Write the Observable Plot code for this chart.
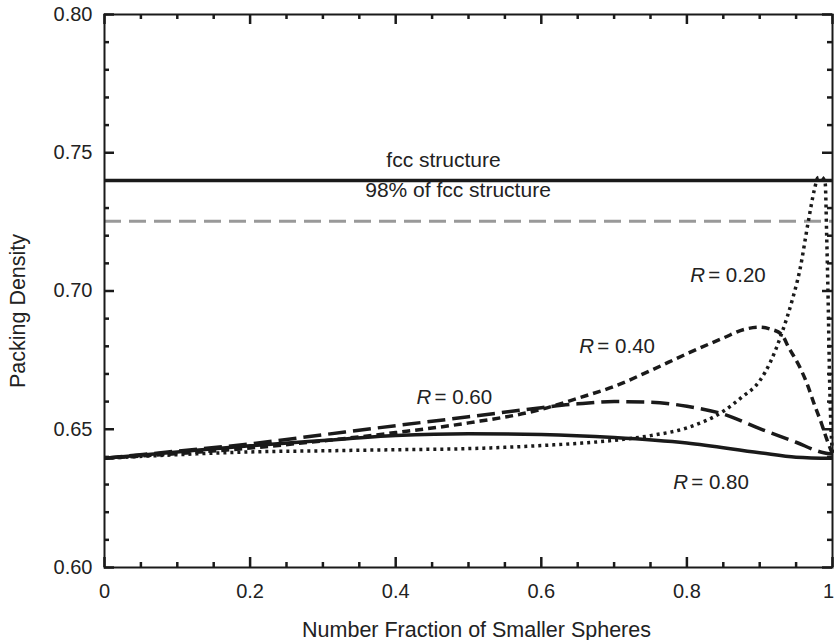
<!DOCTYPE html>
<html>
<head>
<meta charset="utf-8">
<script src="https://cdn.jsdelivr.net/npm/d3@7"></script>
<script src="https://cdn.jsdelivr.net/npm/@observablehq/plot@0.6"></script>
<style>
  html, body { margin: 0; padding: 0; background: #fff; }
</style>
</head>
<body>
<div id="chart"></div>
<script>
// ---- data ----
const r80x = [0, 0.1, 0.2, 0.3, 0.4, 0.5, 0.6, 0.7, 0.8, 0.9, 0.95, 1.0];
const r80y = [0.6395, 0.6418, 0.6440, 0.6459, 0.6477, 0.6484, 0.6481, 0.6470, 0.6450, 0.6415, 0.6399, 0.6395];

const r60x = [0, 0.1, 0.2, 0.3, 0.4, 0.5, 0.6, 0.65, 0.7, 0.75, 0.8, 0.85, 0.9, 0.95, 0.985, 1.0];
const r60y = [0.6395, 0.6421, 0.6447, 0.6480, 0.6513, 0.6545, 0.6578, 0.6592, 0.6600, 0.6598, 0.6583, 0.6555, 0.6502, 0.6453, 0.6417, 0.6410];

const r40x = [0, 0.1, 0.2, 0.3, 0.4, 0.5, 0.6, 0.65, 0.7, 0.75, 0.8, 0.85, 0.88, 0.9, 0.915, 0.93, 0.94, 0.955, 0.965, 0.975, 0.985, 0.992, 1.0];
const r40y = [0.6395, 0.6412, 0.6432, 0.6458, 0.6488, 0.6523, 0.6572, 0.6612, 0.6655, 0.6712, 0.6773, 0.6830, 0.6862, 0.6869, 0.6862, 0.6843, 0.6795, 0.6725, 0.6665, 0.6590, 0.6520, 0.6465, 0.6410];

const r20x = [0, 0.1, 0.2, 0.3, 0.4, 0.5, 0.6, 0.65, 0.7, 0.75, 0.8, 0.85, 0.875, 0.9, 0.915, 0.93, 0.945, 0.955, 0.967, 0.975, 0.98, 0.985, 0.99, 0.992, 0.994, 0.996, 0.998, 1.0];
const r20y = [0.6395, 0.6408, 0.6418, 0.6422, 0.6426, 0.6430, 0.6441, 0.6449, 0.6460, 0.6477, 0.6505, 0.6565, 0.6615, 0.6675, 0.6745, 0.6845, 0.6970, 0.7074, 0.7255, 0.7365, 0.7410, 0.7412, 0.7390, 0.7200, 0.6970, 0.6680, 0.6500, 0.6410];

const fccValue = 0.740;
const fcc98Value = 0.7252;

const xTickValues = [0, 0.2, 0.4, 0.6, 0.8, 1];
const xMinorTicks = [0.05, 0.1, 0.15, 0.25, 0.3, 0.35, 0.45, 0.5, 0.55, 0.65, 0.7, 0.75, 0.85, 0.9, 0.95];
const yTickValues = [0.60, 0.65, 0.70, 0.75, 0.80];
const yMinorTicks = [0.61, 0.62, 0.63, 0.64, 0.66, 0.67, 0.68, 0.69, 0.71, 0.72, 0.73, 0.74, 0.76, 0.77, 0.78, 0.79];

const refLabels = [
  {text: "fcc structure", x: 0.4657, y: 0.7448},
  {text: "98% of fcc structure", x: 0.4856, y: 0.7339}
];
const rLabels = [
  {r: "0.20", x: 0.8045, y: 0.7032},
  {r: "0.40", x: 0.6523, y: 0.6775},
  {r: "0.60", x: 0.4287, y: 0.6592},
  {r: "0.80", x: 0.7812, y: 0.6285}
];

// ---- build ----
const toRows = (xs, ys) => xs.map((x, i) => ({x, y: ys[i]}));
const W = 834, H = 640;
const mL = 104, mR = 2, mT = 14, mB = 73;
const fW = W - mL - mR, fH = H - mT - mB;
const ink = "#1a1a1a";
const txt = "#222";
const lineOpts = {x: "x", y: "y", stroke: ink, strokeWidth: 3.5, curve: "monotone-x", strokeLinecap: "butt", strokeLinejoin: "round"};
const fmtX = d => String(+d.toFixed(1));

const chart = Plot.plot({
  width: W,
  height: H,
  marginLeft: mL,
  marginRight: mR,
  marginTop: mT,
  marginBottom: mB,
  style: {fontFamily: "'Liberation Sans', Arial, Helvetica, sans-serif", fontSize: "20px", color: txt, background: "#fff"},
  x: {domain: [0, 1], axis: null},
  y: {domain: [0.6, 0.8]},
  marks: [
    Plot.ruleY([fccValue], {stroke: ink, strokeWidth: 3.5}),
    Plot.ruleY([fcc98Value], {stroke: "#999", strokeWidth: 3, strokeDasharray: "17,8"}),
    Plot.line(toRows(r80x, r80y), {...lineOpts}),
    Plot.line(toRows(r60x, r60y), {...lineOpts, strokeDasharray: "18,7"}),
    Plot.line(toRows(r40x, r40y), {...lineOpts, strokeDasharray: "8,5"}),
    Plot.line(toRows(r20x, r20y), {...lineOpts, strokeDasharray: "3,4"}),
    // ticks (inward, all four sides)
    Plot.ruleX(xTickValues, {x: d => d, insetTop: fH - 10, stroke: ink, strokeWidth: 2.5}),
    Plot.ruleX(xTickValues, {x: d => d, insetBottom: fH - 10, stroke: ink, strokeWidth: 2.5}),
    Plot.ruleX(xMinorTicks, {x: d => d, insetTop: fH - 5, stroke: ink, strokeWidth: 2.5}),
    Plot.ruleX(xMinorTicks, {x: d => d, insetBottom: fH - 5, stroke: ink, strokeWidth: 2.5}),
    Plot.ruleY(yTickValues, {y: d => d, insetRight: fW - 10, stroke: ink, strokeWidth: 2.5}),
    Plot.ruleY(yTickValues, {y: d => d, insetLeft: fW - 10, stroke: ink, strokeWidth: 2.5}),
    Plot.ruleY(yMinorTicks, {y: d => d, insetRight: fW - 5, stroke: ink, strokeWidth: 2.5}),
    Plot.ruleY(yMinorTicks, {y: d => d, insetLeft: fW - 5, stroke: ink, strokeWidth: 2.5}),
    Plot.frame({stroke: ink, strokeWidth: 2}),
    // tick labels
    Plot.text(xTickValues.slice(0, -1), {x: d => d, text: fmtX, frameAnchor: "bottom", lineAnchor: "top", textAnchor: "middle", dy: 16, fontSize: 20, fill: txt}),
    Plot.text(xTickValues.slice(-1), {x: d => d, text: fmtX, frameAnchor: "bottom", lineAnchor: "top", textAnchor: "middle", dy: 16, dx: -4, fontSize: 20, fill: txt}),
    Plot.axisY({ticks: yTickValues, tickFormat: d3.format(".2f"), tickSize: 0, tickPadding: 12, fontSize: 20, label: null}),
    // axis titles
    Plot.text(["Number Fraction of Smaller Spheres"], {frameAnchor: "bottom", textAnchor: "middle", lineAnchor: "bottom", dy: 69, dx: 8, fontSize: 21.5, fill: txt}),
    Plot.text(["Packing Density"], {frameAnchor: "left", textAnchor: "middle", lineAnchor: "middle", rotate: -90, dx: -86, dy: 20, fontSize: 21.5, fill: txt}),
    // annotations
    Plot.text(refLabels, {x: "x", y: "y", text: "text", textAnchor: "middle", lineAnchor: "bottom", fontSize: 21, fill: txt}),
    Plot.text(rLabels, {x: "x", y: "y", text: () => "R", fontStyle: "italic", textAnchor: "start", lineAnchor: "bottom", fontSize: 20.5, fill: txt}),
    Plot.text(rLabels, {x: "x", y: "y", text: d => "= " + d.r, textAnchor: "start", lineAnchor: "bottom", dx: 18, fontSize: 20.5, fill: txt})
  ]
});
document.getElementById("chart").appendChild(chart);
</script>
</body>
</html>
